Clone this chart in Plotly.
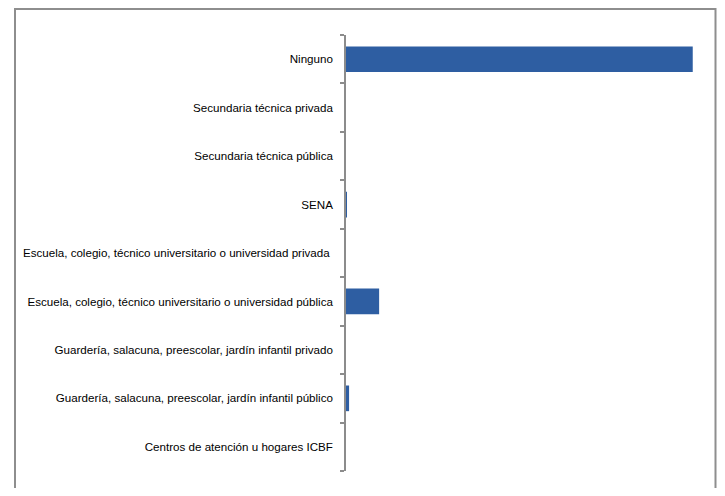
import plotly.graph_objects as go

categories = [
    "Centros de atención u hogares ICBF",
    "Guardería, salacuna, preescolar, jardín infantil público",
    "Guardería, salacuna, preescolar, jardín infantil privado",
    "Escuela, colegio, técnico universitario o universidad pública",
    "Escuela, colegio, técnico universitario o universidad privada ",
    "SENA",
    "Secundaria técnica pública",
    "Secundaria técnica privada",
    "Ninguno",
]
values = [0.0, 0.8, 0.0, 8.6, 0.0, 0.25, 0.0, 0.0, 90.0]

# page body has an 8px margin; work in screen pixels and offset
OFF = 8
W, H = 725 - 2 * OFF, 496 - 2 * OFF
L, R, T, B = 346 - OFF, 712 - OFF, 35 - OFF, 471 - OFF

def px(x):
    return (x - OFF - L) / (R - L)

def py(y):
    return (B - (y - OFF)) / (B - T)

fig = go.Figure(go.Bar(
    x=values, y=categories, orientation="h",
    marker=dict(color="#2E5EA2", line=dict(width=0)),
    hoverinfo="x+y",
))

fig.update_layout(
    width=W, height=H,
    margin=dict(l=L, r=W - R, t=T, b=H - B, pad=0),
    paper_bgcolor="white", plot_bgcolor="white",
    bargap=0.47,
    showlegend=False,
    font=dict(family="Liberation Sans, Arial, sans-serif", size=11.6, color="#000000"),
    xaxis=dict(range=[0, 95], visible=False, fixedrange=True),
    yaxis=dict(
        showline=True, linecolor="#8C8C8C", linewidth=1.5,
        ticks="outside", tickson="boundaries", ticklen=4, tickcolor="#8C8C8C", tickwidth=1.5,
        ticklabelstandoff=9,
        showgrid=False, fixedrange=True,
    ),
    shapes=[
        dict(type="rect", xref="paper", yref="paper",
             x0=px(15), x1=px(715.5), y0=py(9), y1=py(H + 40),
             fillcolor="rgba(0,0,0,0)", line=dict(color="#8E8E8E", width=2)),
    ],
)

fig.write_html("out.html")
